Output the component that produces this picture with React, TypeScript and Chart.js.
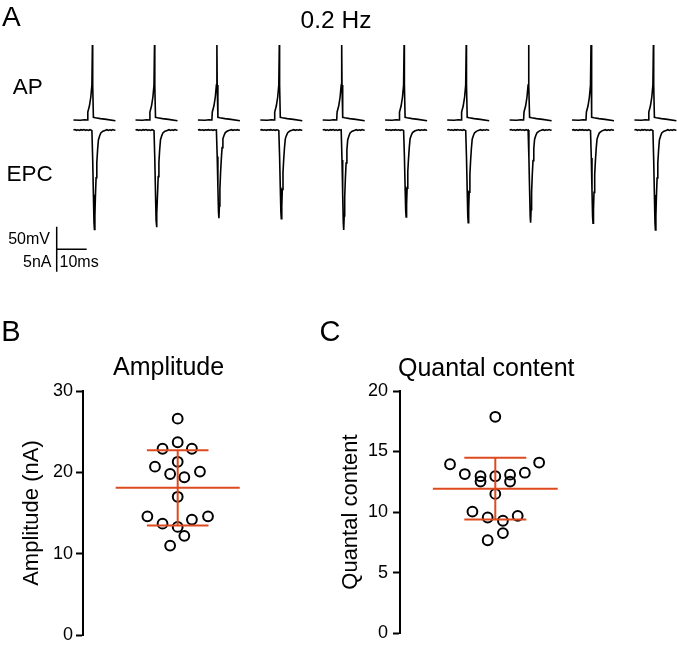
import React, { useEffect, useRef } from "react";
import { Chart, registerables } from "chart.js";

Chart.register(...registerables);

const FONT = "'Liberation Sans', Arial, Helvetica, sans-serif";
const ORANGE = "#de4a1f";

// ---------------- Panel A: AP / EPC sweeps at 0.2 Hz ----------------
// spike time of each sweep on the concatenated display time axis (ms)
const SWEEP_SPIKE_MS = [30.8, 51.5, 72.3, 93.1, 113.9, 134.7, 155.4, 176.2, 197.0, 217.8];
// EPC peak amplitude of each sweep (nA)
const SWEEP_EPC_PEAK_NA = [22.1, 21.6, 19.6, 19.7, 22.2, 19.3, 20.6, 20.6, 20.7, 22.2];

// action potential waveform (time relative to spike, ms / membrane potential, mV)
const AP_T_MS = [-6.33, -4.0, -2.67, -1.67, -1.53, -1.0, -0.53, -0.17, 0, 0.1, 0.33, 1.0, 2.67, 4.67, 7.67];
const AP_MV = [-70, -70.7, -69.6, -70, -52.2, -38.9, -18.9, 7.8, 96.7, 7.8, -64.0, -65.1, -66.9, -68.7, -71.6];

// end-plate current waveform (time relative to spike, ms / fraction of the sweep's peak)
const EPC_T_MS = [
  -6.33, -5.83, -5.33, -4.83, -4.33, -3.83, -3.33, -2.83, -2.33, -1.83, -1.33, -0.83, -0.33, -0.17,
  0.1, 0.33, 0.53, 0.67, 0.83, 1.0, 1.23, 1.47, 1.73, 2.0, 2.4, 2.8, 3.5, 4.23, 4.83, 5.33, 5.83,
  6.33, 6.83, 7.33, 7.67,
];
const EPC_NORM = [
  0, -0.004, 0.003, -0.002, 0.004, -0.003, 0.001, -0.004, 0.003, -0.002, 0.004, -0.003, 0.002, 0,
  0.3, 0.65, 0.93, 1.0, 0.86, 0.67, 0.48, 0.33, 0.2, 0.1, 0.06, 0.03, 0.012, 0.004, -0.003, 0.004,
  -0.002, 0.003, -0.004, 0.002, 0,
];

// scale bars
const SCALE_MV = 50;
const SCALE_NA = 5;
const SCALE_MS = 10;
const SCALE_ANCHOR_MS = 18.9;
const SCALE_ANCHOR_MV = -357.3;

// ---------------- Panel B: EPC amplitude ----------------
const AMP_NA = [26.6, 23.7, 22.9, 22.9, 21.3, 20.7, 19.8, 19.4, 20.1, 17.0, 14.6, 14.6, 13.7, 14.2, 13.3, 12.2, 11.0];
const AMP_JITTER = [0, 0, -0.16, 0.15, 0, -0.24, -0.08, 0.07, 0.235, 0, -0.32, 0.32, -0.16, 0.15, 0, 0.07, -0.08];
const AMP_MEAN = 18.1;
const AMP_SD = 4.63;
const AMP_MAX = 30;
const AMP_STEP = 10;

// ---------------- Panel C: quantal content ----------------
const QC = [17.87, 13.95, 14.09, 13.14, 12.96, 12.96, 13.09, 13.25, 12.52, 12.52, 11.5, 10.04, 9.55, 9.28, 9.69, 8.26, 7.67];
const QC_JITTER = [0, -0.475, 0.46, -0.32, -0.155, 0, 0.155, 0.31, -0.155, 0.155, 0, -0.24, -0.08, 0.08, 0.235, 0.08, -0.08];
const QC_MEAN = 11.93;
const QC_SD = 2.55;
const QC_MAX = 20;
const QC_STEP = 5;

const MEAN_HALF = 0.655;
const CAP_HALF = 0.325;

function buildTraceChart(canvas: HTMLCanvasElement) {
  const datasets: any[] = [];
  SWEEP_SPIKE_MS.forEach((t0, i) => {
    datasets.push({
      data: AP_T_MS.map((dt, k) => ({ x: t0 + dt, y: AP_MV[k] })),
      yAxisID: "yAP",
      borderColor: "#000",
      borderWidth: 1.6,
      pointRadius: 0,
      tension: 0,
      showLine: true,
    });
    datasets.push({
      data: EPC_T_MS.map((dt, k) => ({ x: t0 + dt, y: -EPC_NORM[k] * SWEEP_EPC_PEAK_NA[i] })),
      yAxisID: "yEPC",
      borderColor: "#000",
      borderWidth: 1.6,
      pointRadius: 0,
      tension: 0,
      showLine: true,
    });
  });

  const scaleBar = {
    id: "scaleBar",
    afterDatasetsDraw(chart: any) {
      const { ctx, scales } = chart;
      const x = scales.x;
      const ya = scales.yAP;
      const ye = scales.yEPC;
      const x0 = x.getPixelForValue(SCALE_ANCHOR_MS);
      const x1 = x.getPixelForValue(SCALE_ANCHOR_MS + SCALE_MS);
      const yj = ya.getPixelForValue(SCALE_ANCHOR_MV);
      const yTop = ya.getPixelForValue(SCALE_ANCHOR_MV + SCALE_MV);
      const nAj = ye.getValueForPixel(yj);
      const yBot = ye.getPixelForValue(nAj - SCALE_NA);
      ctx.save();
      ctx.strokeStyle = "#000";
      ctx.lineWidth = 1.5;
      ctx.beginPath();
      ctx.moveTo(x0, yTop);
      ctx.lineTo(x0, yBot);
      ctx.moveTo(x0, yj);
      ctx.lineTo(x1, yj);
      ctx.stroke();
      ctx.restore();
    },
  };

  return new Chart(canvas, {
    type: "scatter",
    data: { datasets },
    options: {
      responsive: false,
      animation: false,
      devicePixelRatio: 1,
      layout: { padding: 0 },
      plugins: { legend: { display: false }, tooltip: { enabled: false } },
      scales: {
        x: { type: "linear", display: false, min: 0, max: 677 / 3 },
        yAP: { type: "linear", display: false, min: -447.78, max: 196.67 },
        yEPC: { type: "linear", display: false, min: -35.56, max: 28.89 },
      },
    },
    plugins: [scaleBar],
  } as any);
}

function buildDotChart(
  canvas: HTMLCanvasElement,
  values: number[],
  jitter: number[],
  mean: number,
  sd: number,
  yMax: number,
  step: number,
  yTitle: string,
  axisWidth: number,
  titlePad: number,
  tickPad: number,
  padRight: number
) {
  const lineStyle = {
    borderColor: ORANGE,
    borderWidth: 2,
    pointRadius: 0,
    showLine: true,
    tension: 0,
    order: 1,
  };
  return new Chart(canvas, {
    type: "scatter",
    data: {
      datasets: [
        {
          data: values.map((v, i) => ({ x: jitter[i], y: v })),
          pointRadius: 4.9,
          pointBorderWidth: 2,
          pointBorderColor: "#000",
          pointBackgroundColor: "rgba(0,0,0,0)",
          showLine: false,
          order: 2,
        },
        { ...lineStyle, data: [{ x: -MEAN_HALF, y: mean }, { x: MEAN_HALF, y: mean }] },
        { ...lineStyle, data: [{ x: 0, y: mean - sd }, { x: 0, y: mean + sd }] },
        { ...lineStyle, data: [{ x: -CAP_HALF, y: mean + sd }, { x: CAP_HALF, y: mean + sd }] },
        { ...lineStyle, data: [{ x: -CAP_HALF, y: mean - sd }, { x: CAP_HALF, y: mean - sd }] },
      ],
    },
    options: {
      responsive: false,
      animation: false,
      devicePixelRatio: 1,
      layout: { padding: { top: 63, bottom: 10, left: 0, right: padRight } },
      plugins: { legend: { display: false }, tooltip: { enabled: false } },
      scales: {
        x: { type: "linear", display: false, min: -1, max: 1 },
        y: {
          type: "linear",
          min: 0,
          max: yMax,
          afterFit: (s: any) => {
            s.width = axisWidth;
          },
          ticks: {
            stepSize: step,
            color: "#000",
            padding: tickPad,
            font: { family: FONT, size: 18, lineHeight: 1.1 },
          },
          grid: {
            drawOnChartArea: false,
            drawTicks: true,
            tickLength: 7,
            tickWidth: 2,
            tickColor: "#000",
            color: "#000",
          },
          border: { display: true, color: "#000", width: 2 },
          title: {
            display: true,
            text: yTitle,
            color: "#000",
            font: { family: FONT, size: 22 },
            padding: { top: titlePad, bottom: 0 },
          },
        },
      },
    },
  } as any);
}

const txt = (extra: React.CSSProperties): React.CSSProperties => ({
  position: "absolute",
  fontFamily: FONT,
  lineHeight: 1,
  whiteSpace: "nowrap",
  color: "#000",
  ...extra,
});

export default function App() {
  const aRef = useRef<HTMLCanvasElement>(null);
  const bRef = useRef<HTMLCanvasElement>(null);
  const cRef = useRef<HTMLCanvasElement>(null);

  useEffect(() => {
    const charts: Chart[] = [];
    if (aRef.current) charts.push(buildTraceChart(aRef.current));
    if (bRef.current)
      charts.push(
        buildDotChart(bRef.current, AMP_NA, AMP_JITTER, AMP_MEAN, AMP_SD, AMP_MAX, AMP_STEP, "Amplitude (nA)", 83, 18.8, 3, 27.6)
      );
    if (cRef.current)
      charts.push(
        buildDotChart(cRef.current, QC, QC_JITTER, QC_MEAN, QC_SD, QC_MAX, QC_STEP, "Quantal content", 100, 37.3, 5, 86.4)
      );
    return () => charts.forEach((c) => c.destroy());
  }, []);

  return (
    <div
      style={{
        position: "absolute",
        left: 0,
        top: 0,
        width: 677,
        height: 648,
        overflow: "hidden",
        background: "#fff",
      }}
    >
      <canvas ref={aRef} width={677} height={290} style={{ position: "absolute", left: 0, top: 0 }} />
      <canvas ref={bRef} width={300} height={320} style={{ position: "absolute", left: 0, top: 328 }} />
      <canvas ref={cRef} width={377} height={320} style={{ position: "absolute", left: 300, top: 328 }} />

      <div style={txt({ left: 2, top: 3.4, fontSize: 28 })}>A</div>
      <div style={txt({ left: 336, top: 7.5, fontSize: 24.5, transform: "translateX(-50%)" })}>0.2 Hz</div>
      <div style={txt({ left: 12.7, top: 76.2, fontSize: 22.5 })}>AP</div>
      <div style={txt({ left: 6.5, top: 163, fontSize: 22.5 })}>EPC</div>
      <div style={txt({ right: 627, top: 231.2, fontSize: 16 })}>50mV</div>
      <div style={txt({ right: 625.5, top: 253.9, fontSize: 16 })}>5nA</div>
      <div style={txt({ left: 59.5, top: 253.9, fontSize: 16 })}>10ms</div>

      <div style={txt({ left: 1.2, top: 317, fontSize: 29 })}>B</div>
      <div style={txt({ left: 319.5, top: 317, fontSize: 29 })}>C</div>
      <div style={txt({ left: 113, top: 354, fontSize: 25 })}>Amplitude</div>
      <div style={txt({ left: 398, top: 354.7, fontSize: 25 })}>Quantal content</div>
    </div>
  );
}
